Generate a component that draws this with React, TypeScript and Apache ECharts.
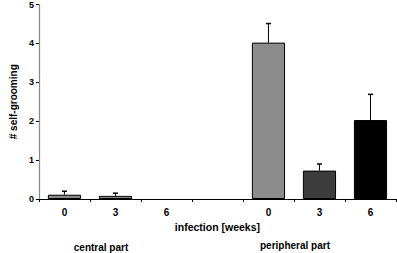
import React, { useEffect, useRef } from "react";
import * as echarts from "echarts";

const categories = ["0", "3", "6", "", "0", "3", "6"];
const meanValues: (number | null)[] = [0.11, 0.08, null, null, 4.02, 0.73, 2.03];
const errorTops: (number | null)[] = [0.2, 0.15, null, null, 4.51, 0.9, 2.69];
const yTicks = [0, 1, 2, 3, 4, 5];
const groupLabels = ["central part", "peripheral part"];

const barColors = ["#8a8a8a", "#8a8a8a", "#8a8a8a", "#8a8a8a", "#8c8c8c", "#3c3c3c", "#000000"];

const FONT = "'Liberation Sans', Arial, sans-serif";

export default function App() {
  const ref = useRef<HTMLDivElement>(null);
  useEffect(() => {
    if (!ref.current) return;
    const chart = echarts.init(ref.current, null, { renderer: "svg" });
    const errData = errorTops
      .map((e, i) => (e == null ? null : [i, meanValues[i] ?? 0, e]))
      .filter((d) => d != null);
    chart.setOption({
      animation: false,
      grid: { left: 30, right: 1, top: 4, bottom: 54 },
      xAxis: {
        type: "category",
        data: categories,
        axisLine: { lineStyle: { color: "#000", width: 1.2 } },
        axisTick: { show: true, length: 3, lineStyle: { color: "#000" } },
        axisLabel: {
          color: "#000",
          fontFamily: FONT,
          fontWeight: "bold",
          fontSize: 10,
          margin: 8,
        },
        name: "infection [weeks]",
        nameLocation: "middle",
        nameGap: 22,
        nameTextStyle: { color: "#000", fontFamily: FONT, fontWeight: "bold", fontSize: 10.5 },
      },
      yAxis: {
        type: "value",
        min: yTicks[0],
        max: yTicks[yTicks.length - 1],
        interval: 1,
        splitLine: { show: false },
        axisLine: { show: true, lineStyle: { color: "#888", width: 1.2 } },
        axisTick: { show: true, length: 3, lineStyle: { color: "#000" } },
        axisLabel: {
          color: "#000",
          fontFamily: FONT,
          fontWeight: "bold",
          fontSize: 9,
          margin: 5,
        },
        name: "# self-grooming",
        nameLocation: "middle",
        nameGap: 18,
        nameRotate: 90,
        nameTextStyle: { color: "#000", fontFamily: FONT, fontWeight: "bold", fontSize: 10 },
      },
      series: [
        {
          type: "bar",
          barWidth: "65%",
          data: meanValues.map((v, i) => ({
            value: v,
            itemStyle: { color: barColors[i], borderColor: "#000", borderWidth: 1 },
          })),
          z: 2,
        },
        {
          type: "custom",
          data: errData,
          z: 1,
          renderItem: (params: any, api: any) => {
            const x = api.value(0);
            const base = api.coord([x, api.value(1)]);
            const top = api.coord([x, api.value(2)]);
            const hw = 2.5;
            return {
              type: "group",
              children: [
                {
                  type: "line",
                  shape: { x1: base[0], y1: base[1], x2: top[0], y2: top[1] },
                  style: { stroke: "#000", lineWidth: 1 },
                },
                {
                  type: "line",
                  shape: { x1: top[0] - hw, y1: top[1], x2: top[0] + hw, y2: top[1] },
                  style: { stroke: "#000", lineWidth: 1.5 },
                },
              ],
            };
          },
        },
      ],
      graphic: [
        {
          type: "text",
          x: 101,
          y: 247,
          style: {
            text: groupLabels[0],
            fill: "#000",
            font: `bold 10px ${FONT}`,
            textAlign: "center",
            textVerticalAlign: "middle",
          },
        },
        {
          type: "text",
          x: 295,
          y: 245,
          style: {
            text: groupLabels[1],
            fill: "#000",
            font: `bold 10px ${FONT}`,
            textAlign: "center",
            textVerticalAlign: "middle",
          },
        },
      ],
    });
    return () => chart.dispose();
  }, []);
  return (
    <div
      ref={ref}
      style={{ position: "fixed", left: 0, top: 0, width: 397, height: 253, background: "#fff" }}
    />
  );
}
